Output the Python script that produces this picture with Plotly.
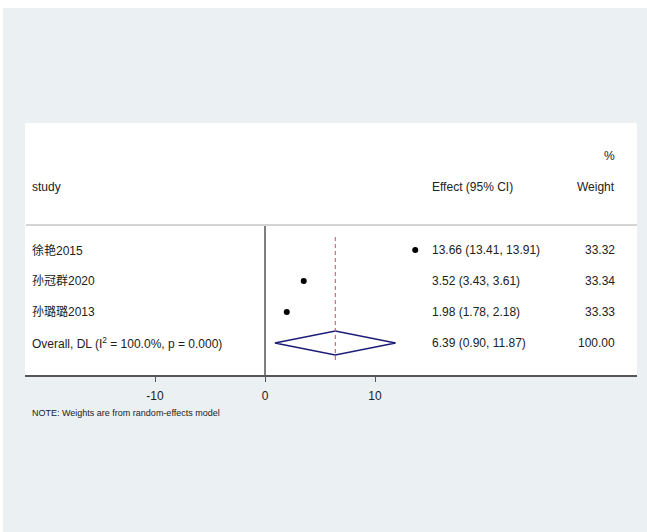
import plotly.graph_objects as go

# Study-level estimates (effect, 95% CI) and random-effects weights
studies = ["徐艳2015", "孙冠群2020", "孙璐璐2013"]
effects = [13.66, 3.52, 1.98]
ci_low = [13.41, 3.43, 1.78]
ci_high = [13.91, 3.61, 2.18]
weights = [33.32, 33.34, 33.33]

# Pooled DerSimonian-Laird estimate
overall_label = "Overall, DL (I<sup>2</sup> = 100.0%, p = 0.000)"
overall_effect = 6.39
overall_low = 0.90
overall_high = 11.87
overall_weight = 100.00

x_ticks = [-10, 0, 10]
x_tick_text = ["-10", "0", "10"]
note = "NOTE: Weights are from random-effects model"

FONT = "Liberation Sans, Arial, Noto Sans CJK SC, sans-serif"
TXT = "#222222"

# figure geometry (pixels)
W, H = 647, 532
L, R, T, B = 25, 10, 123, 157
plot_w = W - L - R
plot_h = H - T - B
PX_PER_UNIT = 11.0
x0_px = 265 - L  # position of zero inside plot area
x_range = [-x0_px / PX_PER_UNIT, (plot_w - x0_px) / PX_PER_UNIT]

ROW_PX = 31.0
row1_px = 250 - T
y_top = 1 - row1_px / ROW_PX
y_bot = y_top + plot_h / ROW_PX
rows = list(range(1, len(studies) + 1))
overall_row = len(studies) + 1


def px_x(px):
    return (px - L) / plot_w


def px_y(py):
    return (H - B - py) / plot_h


fig = go.Figure()

# pooled diamond
dh = 0.39
fig.add_trace(go.Scatter(
    x=[overall_low, overall_effect, overall_high, overall_effect, overall_low],
    y=[overall_row, overall_row - dh, overall_row, overall_row + dh, overall_row],
    mode="lines", line=dict(color="#1c1c78", width=1.5),
    hoverinfo="skip", showlegend=False,
))

# study point estimates with confidence intervals
fig.add_trace(go.Scatter(
    x=effects, y=rows, mode="markers",
    marker=dict(symbol="circle", size=6, color="#000000"),
    error_x=dict(type="data", symmetric=False,
                 array=[h - e for h, e in zip(ci_high, effects)],
                 arrayminus=[e - l for e, l in zip(effects, ci_low)],
                 color="#000000", thickness=1, width=0),
    showlegend=False,
))

shapes = [
    # outer background with thin white strip at top/left
    dict(type="rect", xref="paper", yref="paper", layer="below",
         x0=px_x(3), x1=px_x(W + 5), y0=px_y(8), y1=px_y(H + 5),
         fillcolor="#ebf0f3", line=dict(width=0)),
    # white chart panel
    dict(type="rect", xref="paper", yref="paper", layer="below",
         x0=0, x1=1, y0=0, y1=1, fillcolor="#ffffff", line=dict(width=0)),
    # header rule
    dict(type="line", xref="paper", yref="paper",
         x0=px_x(26), x1=1, y0=px_y(225), y1=px_y(225),
         line=dict(color="#d4d4d4", width=2)),
    # line of no effect
    dict(type="line", xref="x", yref="paper",
         x0=0, x1=0, y0=0, y1=px_y(226),
         line=dict(color="#555555", width=1.5)),
    # pooled estimate reference
    dict(type="line", xref="x", yref="paper",
         x0=overall_effect, x1=overall_effect, y0=px_y(360), y1=px_y(235),
         line=dict(color="#b8576a", width=1, dash="4px,3px")),
]

ann = []
hdr_y = 1 + (187 - 250) / ROW_PX
pct_y = 1 + (156 - 250) / ROW_PX
eff_x = px_x(430)
wt_x = px_x(617)
lab_x = px_x(30)


def text(x, y, s, anchor="left", size=12, yref="y"):
    ann.append(dict(x=x, y=y, xref="paper", yref=yref, text=s, showarrow=False,
                    xanchor=anchor, yanchor="middle",
                    font=dict(family=FONT, size=size, color=TXT)))


text(lab_x, hdr_y, "study")
text(eff_x, hdr_y, "Effect (95% CI)")
text(wt_x, hdr_y, "Weight", "right")
text(wt_x, pct_y, "%", "right")

for r, s, e, lo, hi, w in zip(rows, studies, effects, ci_low, ci_high, weights):
    text(lab_x, r, s)
    text(eff_x, r, f"{e:.2f} ({lo:.2f}, {hi:.2f})")
    text(wt_x, r, f"{w:.2f}", "right")

text(lab_x, overall_row, overall_label)
text(eff_x, overall_row,
     f"{overall_effect:.2f} ({overall_low:.2f}, {overall_high:.2f})")
text(wt_x, overall_row, f"{overall_weight:.2f}", "right")

text(px_x(30), px_y(413), note, size=9, yref="paper")

fig.update_layout(
    width=W, height=H,
    margin=dict(l=L, r=R, t=T, b=B, pad=0),
    paper_bgcolor="#ffffff", plot_bgcolor="rgba(0,0,0,0)",
    shapes=shapes, annotations=ann,
    font=dict(family=FONT, color=TXT),
    xaxis=dict(range=x_range, tickmode="array", tickvals=x_ticks,
               ticktext=x_tick_text, ticks="outside", ticklen=5,
               ticklabelstandoff=4,
               tickcolor="#555555", showline=True, linecolor="#555555",
               linewidth=1.5, showgrid=False, zeroline=False,
               tickfont=dict(family=FONT, size=12, color=TXT), fixedrange=True),
    yaxis=dict(range=[y_bot, y_top], visible=False, showgrid=False,
               zeroline=False, fixedrange=True),
)

fig.write_html("out.html", config={"displayModeBar": False})
